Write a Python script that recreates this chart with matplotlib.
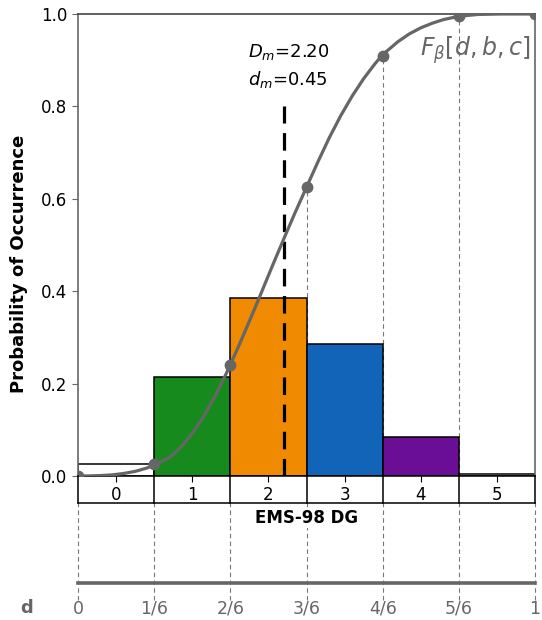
import numpy as np
import matplotlib
matplotlib.use("Agg")
import matplotlib.pyplot as plt

# Damage grade probabilities (EMS-98 DG 0..5)
dg_labels = ["0", "1", "2", "3", "4", "5"]
dg_probs = [0.025, 0.215, 0.385, 0.285, 0.085, 0.005]
dg_colors = ["white", "#178a1e", "#f08a00", "#1264b8", "#6a0e96", "white"]

# Beta CDF points at the grade boundaries
d_nodes = [0, 1/6, 2/6, 3/6, 4/6, 5/6, 1]
d_node_labels = ["0", "1/6", "2/6", "3/6", "4/6", "5/6", "1"]
F_nodes = [0.0, 0.025, 0.24, 0.625, 0.91, 0.995, 1.0]

# Beta CDF curve
d_curve = [0.0, 0.025, 0.05, 0.075, 0.1, 0.125, 0.15, 0.1667, 0.2, 0.225,
           0.25, 0.275, 0.3, 0.325, 0.3333, 0.35, 0.375, 0.4, 0.425, 0.45,
           0.475, 0.5, 0.525, 0.55, 0.575, 0.6, 0.625, 0.65, 0.6667, 0.7,
           0.725, 0.75, 0.775, 0.8, 0.8333, 0.875, 0.925, 1.0]
F_curve = [0.0, 0.0002, 0.001, 0.0025, 0.0055, 0.010, 0.017, 0.024, 0.040,
           0.062, 0.092, 0.129, 0.173, 0.223, 0.241, 0.2775, 0.335, 0.394,
           0.454, 0.5125, 0.57, 0.625, 0.68, 0.7325, 0.78, 0.8225, 0.86,
           0.8925, 0.912, 0.94, 0.957, 0.97, 0.98, 0.988, 0.995, 0.999,
           1.0, 1.0]

D_m = 2.20
d_m = 0.45

gray = "#666666"

fig = plt.figure(figsize=(5.42, 6.2), dpi=100)

# Main axes
ax = fig.add_axes([78/542, 1 - 476/620, 457/542, 462/620])
ax.set_xlim(0, 1)
ax.set_ylim(0, 1)

w = 1/6
for i, (p, c) in enumerate(zip(dg_probs, dg_colors)):
    ax.bar(i*w, p, width=w, align="edge", color=c, edgecolor="black",
           linewidth=1.1, zorder=2)

# guide lines from CDF nodes down
for d, F in zip(d_nodes[1:], F_nodes[1:]):
    ax.plot([d, d], [0, F], ls=(0, (4, 3)), color="#777777", lw=0.8, zorder=1)

ax.plot(d_curve, F_curve, color=gray, lw=2.3, zorder=4)
ax.plot(d_nodes, F_nodes, "o", color=gray, ms=7.5, zorder=5)

ax.plot([d_m, d_m], [0, 0.8], color="black", lw=2.3, ls=(0, (5.5, 3)), zorder=3)
ax.text(0.372, 0.918, "$D_m$=2.20", fontsize=13, ha="left", va="center")
ax.text(0.372, 0.858, "$d_m$=0.45", fontsize=13, ha="left", va="center")
ax.text(0.99, 0.922, r"$F_\beta[d, b, c]$", fontsize=17, color=gray,
        ha="right", va="center")

ax.set_xticks([(i + 0.5)*w for i in range(6)])
ax.set_xticklabels(dg_labels, fontsize=12)
ax.tick_params(axis="x", length=4, pad=3)
ax.set_yticks([0, 0.2, 0.4, 0.6, 0.8, 1.0])
ax.set_yticklabels(["0.0", "0.2", "0.4", "0.6", "0.8", "1.0"], fontsize=12)
ax.tick_params(axis="y", length=4, color=gray)
ax.set_ylabel("Probability of Occurrence", fontsize=13, fontweight="bold")
ax.yaxis.set_label_coords(-0.11, 0.46)
for s in ["left", "right"]:
    ax.spines[s].set_color(gray)
    ax.spines[s].set_linewidth(1.2)
ax.spines["top"].set_color("#444444")
ax.spines["top"].set_linewidth(1.2)
ax.spines["bottom"].set_linewidth(1.1)

# Lower axes: grade boxes and d axis
ax2 = fig.add_axes([78/542, 1 - 583/620, 457/542, 107/620])
ax2.set_xlim(0, 1)
ax2.set_ylim(0, 1)
ax2.patch.set_alpha(0)
box_bot = 1 - 27/107
ax2.plot([0, 1], [box_bot, box_bot], color="black", lw=1.1, clip_on=False)
for d in d_nodes:
    ax2.plot([d, d], [box_bot, 1], color="black", lw=1.1, clip_on=False)
    ax2.plot([d, d], [-0.16, box_bot], ls=(0, (4, 3)), color="#777777",
             lw=0.8, clip_on=False, zorder=1)
ax2.text(0.5, 1 - 42/107, "EMS-98 DG", fontsize=12, fontweight="bold",
         ha="center", va="center", zorder=3,
         bbox=dict(facecolor="white", edgecolor="none", pad=1))
for s in ["left", "right", "top"]:
    ax2.spines[s].set_visible(False)
ax2.spines["bottom"].set_color(gray)
ax2.spines["bottom"].set_linewidth(2.6)
ax2.set_yticks([])
ax2.set_xticks(d_nodes)
ax2.set_xticklabels(d_node_labels, fontsize=12.5, color=gray)
ax2.tick_params(axis="x", length=0, pad=12)
ax2.text(-0.112, -0.235, "d", fontsize=13, fontweight="bold", color=gray,
         ha="center", va="center")

fig.savefig("out.png", dpi=100)
